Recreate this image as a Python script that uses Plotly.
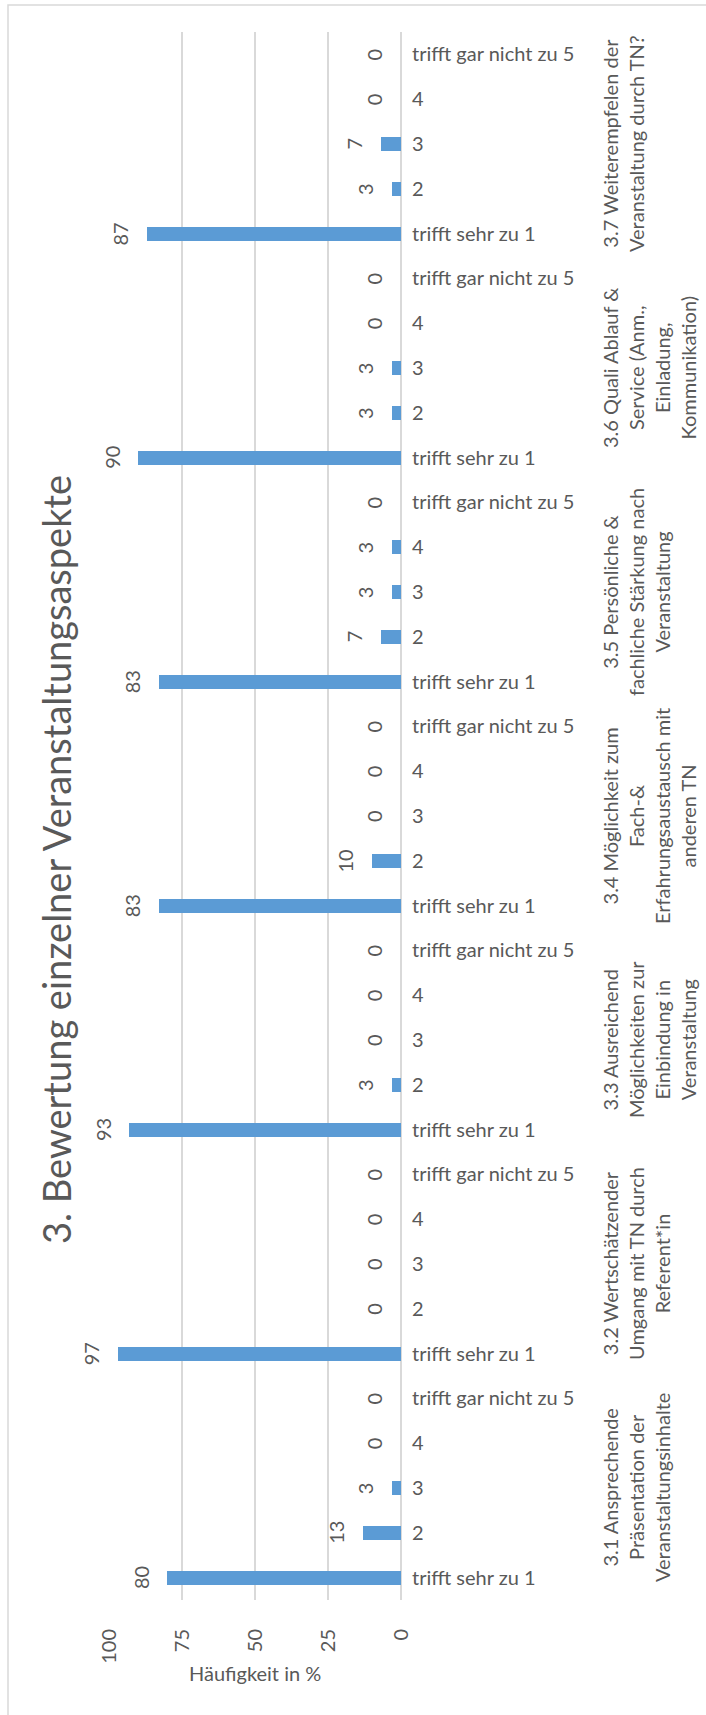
import plotly.graph_objects as go

# ---- data ----
title_text = "3. Bewertung einzelner Veranstaltungsaspekte"
axis_title = "Häufigkeit in %"
categories = ["trifft sehr zu 1", "2", "3", "4", "trifft gar nicht zu 5"]
groups = [
    "3.1 Ansprechende<br>Präsentation der<br>Veranstaltungsinhalte",
    "3.2 Wertschätzender<br>Umgang mit TN durch<br>Referent*in",
    "3.3 Ausreichend<br>Möglichkeiten zur<br>Einbindung in<br>Veranstaltung",
    "3.4 Möglichkeit zum<br>Fach-&<br>Erfahrungsaustausch mit<br>anderen TN",
    "3.5 Persönliche &<br>fachliche Stärkung nach<br>Veranstaltung",
    "3.6 Quali Ablauf &<br>Service (Anm.,<br>Einladung,<br>Kommunikation)",
    "3.7 Weiterempfelen der<br>Veranstaltung durch TN?",
]
v31 = [80, 13, 3, 0, 0]
v32 = [97, 0, 0, 0, 0]
v33 = [93, 3, 0, 0, 0]
v34 = [83, 10, 0, 0, 0]
v35 = [83, 7, 3, 3, 0]
v36 = [90, 3, 3, 0, 0]
v37 = [87, 3, 7, 0, 0]
group_values = [v31, v32, v33, v34, v35, v36, v37]
value_ticks = [0, 25, 50, 75, 100]

# ---- styling ----
W, H = 706, 1715
ML, MR, MT, MB = 109, 305, 32, 115
PW = W - ML - MR
PH = H - MT - MB
TXT = "#595959"
GRID = "#d9d9d9"
BAR = "#5b9bd5"
FONT = "Lato"
FS = 20


def px_x(p):
    return (p - ML) / PW


def px_y(p):
    return (H - MB - p) / PH


ypos, xval, tick_text = [], [], []
for g, vals in enumerate(group_values):
    for c, v in enumerate(vals):
        ypos.append(g * len(categories) + c)
        xval.append(v)
        tick_text.append(categories[c])

fig = go.Figure()
fig.add_trace(go.Bar(
    x=xval, y=ypos, orientation="h", width=0.31,
    marker=dict(color=BAR, line=dict(width=0)),
    hoverinfo="x+y", showlegend=False,
))

annotations = []
# value labels
for yy, v in zip(ypos, xval):
    annotations.append(dict(
        x=v, y=yy, xref="x", yref="y", text=str(v), showarrow=False,
        textangle=-90, xanchor="right", yanchor="middle", xshift=-13,
        font=dict(family=FONT, size=FS, color=TXT),
    ))
# group labels
for g, lab in enumerate(groups):
    annotations.append(dict(
        x=px_x(596), y=g * len(categories) + 2, xref="paper", yref="y",
        text=lab, showarrow=False, textangle=-90,
        xanchor="left", yanchor="middle", align="center",
        font=dict(family=FONT, size=FS, color=TXT),
    ))
# title
annotations.append(dict(
    x=px_x(56), y=px_y(860), xref="paper", yref="paper",
    text=title_text, showarrow=False, textangle=-90,
    xanchor="center", yanchor="middle",
    font=dict(family=FONT, size=38, color=TXT),
))
# axis title
annotations.append(dict(
    x=0.5, y=px_y(1673), xref="paper", yref="paper",
    text=axis_title, showarrow=False,
    xanchor="center", yanchor="middle",
    font=dict(family=FONT, size=FS, color=TXT),
))

fig.update_layout(
    width=W, height=H,
    margin=dict(l=ML, r=MR, t=MT, b=MB, pad=0),
    paper_bgcolor="white", plot_bgcolor="white",
    bargap=0,
    annotations=annotations,
    shapes=[dict(
        type="rect", xref="paper", yref="paper",
        x0=px_x(8), x1=px_x(760), y0=px_y(5), y1=px_y(1800),
        line=dict(color=GRID, width=1.5), fillcolor="rgba(0,0,0,0)",
        layer="below",
    )],
    xaxis=dict(
        range=[100, 0], tickvals=value_ticks, ticktext=[str(t) for t in value_ticks],
        tickangle=-90, showgrid=True, gridcolor=GRID, gridwidth=1.5,
        zeroline=True, zerolinecolor=GRID, zerolinewidth=1.5,
        showline=False, ticks="", ticklabelstandoff=24,
        tickfont=dict(family=FONT, size=FS, color=TXT),
    ),
    yaxis=dict(
        range=[-0.5, len(ypos) - 0.5], tickvals=ypos, ticktext=tick_text,
        side="right", showgrid=False, zeroline=False, showline=False,
        ticks="", ticklabelstandoff=10,
        tickfont=dict(family=FONT, size=FS, color=TXT),
    ),
)

fig.write_html(
    "out.html",
    config={"displayModeBar": False},
    post_script="document.body.style.margin='0';document.body.style.overflow='hidden';",
)
